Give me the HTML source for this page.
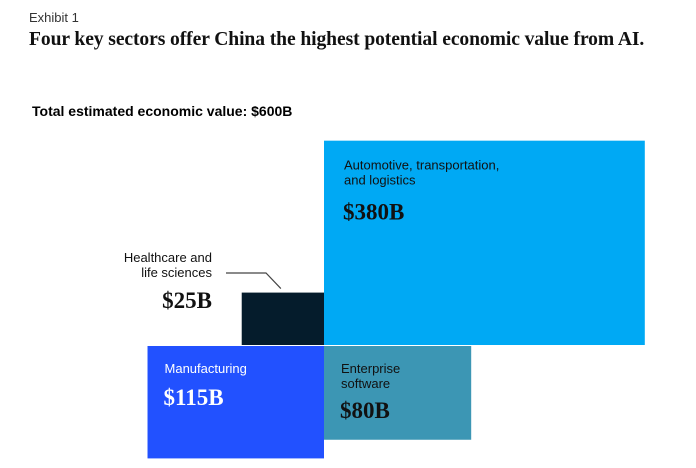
<!DOCTYPE html>
<html><head><meta charset="utf-8"><style>
body{margin:0;width:696px;height:468px;background:#fff;overflow:hidden;position:relative;font-family:"Liberation Sans",sans-serif}
.t{position:absolute;white-space:nowrap}
</style></head><body>
<div class="t" style="left:29px;top:10px;font-size:13px;color:#333">Exhibit 1</div>
<div class="t" style="left:29px;top:29px;font-family:'Liberation Serif',serif;font-weight:bold;font-size:19.6px;letter-spacing:-0.1px;color:#111">Four key sectors offer China the highest potential economic value from AI.</div>
<div class="t" style="left:32px;top:103px;font-size:14px;font-weight:bold;color:#000">Total estimated economic value: $600B</div>
<svg id="chart" width="696" height="468" style="position:absolute;left:0;top:0"></svg>
<script>
const sectors=["Automotive, transportation,|and logistics","Healthcare and|life sciences","Manufacturing","Enterprise|software"];
const values=[380,25,115,80];
const valueLabels=["$380B","$25B","$115B","$80B"];
const colors=["#00a9f4","#051c2c","#2251ff","#3c96b4"];
const ox=324,oy=345,k=172.5,aspect=1.57;
const dirs=[[1,-1],[-1,-1],[-1,1],[1,1]];
const svg=document.getElementById('chart');
const NS="http://www.w3.org/2000/svg";
function size(v){const w=Math.sqrt(v*k*aspect);return [w,w/aspect];}
function txt(x,y,s,opt){const t=document.createElementNS(NS,'text');t.setAttribute('x',x);t.setAttribute('y',y);t.textContent=s;
t.setAttribute('font-family',opt.serif?"Liberation Serif, serif":"Liberation Sans, sans-serif");
t.setAttribute('font-size',opt.size);if(opt.bold)t.setAttribute('font-weight','bold');t.setAttribute('fill',opt.fill);
if(opt.anchor)t.setAttribute('text-anchor',opt.anchor);svg.appendChild(t);return t;}
values.forEach((v,i)=>{
  const [w,h]=size(v);const d=dirs[i];
  const x=d[0]>0?ox:ox-w, y=d[1]>0?oy+1:oy-h;
  const r=document.createElementNS(NS,'rect');
  r.setAttribute('x',x);r.setAttribute('y',y);r.setAttribute('width',w);r.setAttribute('height',h);r.setAttribute('fill',colors[i]);
  
  
  svg.appendChild(r);
  const lines=sectors[i].split('|');
  if(i===1){
    lines.forEach((l,j)=>{const t=txt(212,262+j*15,l,{size:13,fill:'#111',anchor:'end'});
      
      });
    const t=txt(212,308,valueLabels[i],{size:23,bold:true,serif:true,fill:'#111',anchor:'end'});
    
    
    const p=document.createElementNS(NS,'polyline');
    p.setAttribute('points',`226,273 266,273 ${x+w/2-2},${y-4}`);p.setAttribute('fill','none');p.setAttribute('stroke','#444');p.setAttribute('stroke-width','1.2');
    
    
    svg.appendChild(p);
  } else {
    const fill=i===2?'#fff':'#111';
    const lx=i===0?x+20:x+17;
    const ly=i===0?y+29:y+27;
    lines.forEach((l,j)=>{const t=txt(lx,ly+j*15,l,{size:13,fill:fill});
      
      });
    const vy=ly+(lines.length-1)*15+(i===0?35:i===2?32:30);
    const t=txt(lx-1,vy,valueLabels[i],{size:23,bold:true,serif:true,fill:fill});
    
    
  }
});
</script>
</body></html>
